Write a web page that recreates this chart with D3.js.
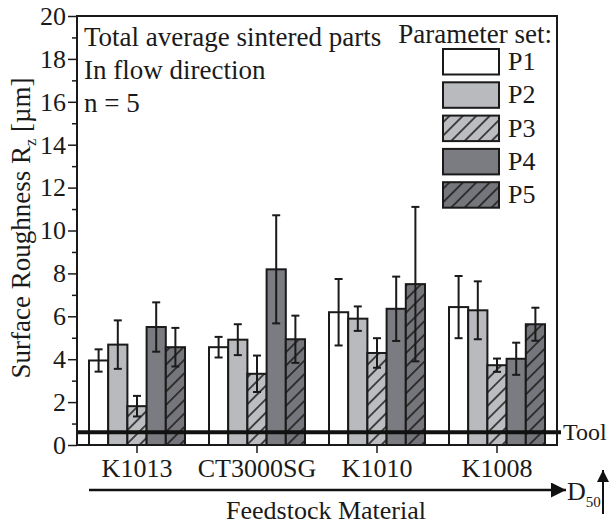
<!DOCTYPE html>
<html>
<head>
<meta charset="utf-8">
<script src="https://cdn.jsdelivr.net/npm/d3@7"></script>
<style>
  body { margin: 0; background: #fff; }
  text { font-family: "Liberation Serif", "DejaVu Serif", serif; fill: #1a1a1a; }
</style>
</head>
<body>
<script>
// feedstock materials (x categories) and parameter sets (series)
var materials = ["K1013", "CT3000SG", "K1010", "K1008"];
var paramSets = ["P1", "P2", "P3", "P4", "P5"];

// mean Rz per material, one array per parameter set
var p1Mean = [3.94, 4.56, 6.19, 6.43];
var p2Mean = [4.68, 4.91, 5.89, 6.28];
var p3Mean = [1.81, 3.32, 4.29, 3.72];
var p4Mean = [5.50, 8.19, 6.35, 4.02];
var p5Mean = [4.56, 4.93, 7.50, 5.63];

// standard deviation (error bar half length)
var p1Sd = [0.52, 0.48, 1.55, 1.45];
var p2Sd = [1.13, 0.72, 0.57, 1.35];
var p3Sd = [0.48, 0.85, 0.69, 0.31];
var p4Sd = [1.15, 2.52, 1.50, 0.75];
var p5Sd = [0.90, 1.10, 3.60, 0.77];

var toolValue = 0.6;
var yTicks = [0, 2, 4, 6, 8, 10, 12, 14, 16, 18, 20];

var means = [p1Mean, p2Mean, p3Mean, p4Mean, p5Mean];
var sds = [p1Sd, p2Sd, p3Sd, p4Sd, p5Sd];

// look of each parameter set
var fills = ["#ffffff", "#b9babd", "#bcbdc0", "#7b7c81", "#75767b"];
var hatched = [false, false, true, false, true];

var W = 610, H = 526;
// plot area (note: "top" is reserved by window, so prefix everything)
var plotLeft = 77, plotRight = 557, plotTop = 16, plotBottom = 445;

var svg = d3.select("body").append("svg")
  .attr("width", W)
  .attr("height", H);

// hatch patterns for P3 and P5
var defs = svg.append("defs");
var hs = 9.5; // hatch spacing
paramSets.forEach(function(p, i) {
  if (!hatched[i]) return;
  var pat = defs.append("pattern")
    .attr("id", "hatch" + i)
    .attr("patternUnits", "userSpaceOnUse")
    .attr("width", hs)
    .attr("height", hs)
    .attr("patternTransform", "rotate(45)");
  pat.append("rect").attr("width", hs).attr("height", hs).attr("fill", fills[i]);
  pat.append("line")
    .attr("x1", hs / 2).attr("y1", 0).attr("x2", hs / 2).attr("y2", hs)
    .attr("stroke", "#1a1a1a").attr("stroke-width", 1.5);
});
function fillOf(i) { return hatched[i] ? "url(#hatch" + i + ")" : fills[i]; }

//scales
var x0 = d3.scaleBand()
  .domain(materials)
  .range([plotLeft, plotRight])
  .paddingInner(0.2)
  .paddingOuter(0.1);

var x1 = d3.scaleBand()
  .domain(paramSets)
  .range([0, x0.bandwidth()]);

var y = d3.scaleLinear()
  .domain([0, 20])
  .range([plotBottom, plotTop]);

// bars
var rows = [];
materials.forEach(function(m, mi) {
  paramSets.forEach(function(p, pi) {
    rows.push({ m: m, p: p, pi: pi, v: means[pi][mi], sd: sds[pi][mi] });
  });
});

svg.append("g").selectAll("rect")
  .data(rows)
  .enter().append("rect")
  .attr("x", function(d) { return x0(d.m) + x1(d.p); })
  .attr("y", function(d) { return y(d.v); })
  .attr("width", x1.bandwidth())
  .attr("height", function(d) { return y(0) - y(d.v); })
  .attr("fill", function(d) { return fillOf(d.pi); })
  .attr("stroke", "#1a1a1a")
  .attr("stroke-width", 2);

// error bars
var eb = svg.append("g").attr("stroke", "#1a1a1a").attr("stroke-width", 2);
rows.forEach(function(d) {
  var cx = x0(d.m) + x1(d.p) + x1.bandwidth() / 2;
  eb.append("line")
    .attr("x1", cx).attr("x2", cx)
    .attr("y1", y(d.v + d.sd)).attr("y2", y(d.v - d.sd));
  [d.v + d.sd, d.v - d.sd].forEach(function(v) {
    eb.append("line")
      .attr("x1", cx - 4).attr("x2", cx + 4)
      .attr("y1", y(v)).attr("y2", y(v));
  });
});

// tool line
svg.append("line")
  .attr("x1", plotLeft).attr("x2", plotRight + 4)
  .attr("y1", y(toolValue)).attr("y2", y(toolValue))
  .attr("stroke", "#111").attr("stroke-width", 4);
svg.append("text")
  .attr("x", plotRight + 6)
  .attr("y", y(toolValue) + 8)
  .style("font-size", "24px")
  .text("Tool");

// frame
svg.append("rect")
  .attr("x", plotLeft).attr("y", plotTop)
  .attr("width", plotRight - plotLeft).attr("height", plotBottom - plotTop)
  .attr("fill", "none")
  .attr("stroke", "#1a1a1a")
  .attr("stroke-width", 2);

// y axis, major + minor ticks
var yAxis = svg.append("g")
  .attr("transform", "translate(" + plotLeft + ",0)")
  .call(d3.axisLeft(y).tickValues(yTicks).tickSize(9).tickPadding(2));
yAxis.select(".domain").remove();
yAxis.selectAll("line").attr("stroke", "#1a1a1a").attr("stroke-width", 1.5);
yAxis.selectAll("text")
  .style("font-size", "26px")
  .attr("fill", "#1a1a1a");

svg.append("g")
  .attr("transform", "translate(" + plotLeft + ",0)")
  .call(d3.axisLeft(y).tickValues(d3.range(1, 20, 2)).tickSize(5).tickFormat(""))
  .call(function(g) { g.select(".domain").remove(); })
  .selectAll("line").attr("stroke", "#1a1a1a").attr("stroke-width", 1.5);

// x axis ticks and labels
var xAxis = svg.append("g")
  .attr("transform", "translate(0," + plotBottom + ")")
  .call(d3.axisBottom(x0).tickSize(8).tickSizeOuter(0).tickPadding(6));
xAxis.select(".domain").remove();
xAxis.selectAll("line").attr("stroke", "#1a1a1a").attr("stroke-width", 1.5);
xAxis.selectAll("text")
  .style("font-size", "26px")
  .attr("fill", "#1a1a1a");

// y axis title with subscript
var yt = svg.append("text")
  .attr("transform", "translate(30," + 228 + ") rotate(-90)")
  .attr("text-anchor", "middle")
  .style("font-size", "27px");
yt.append("tspan").text("Surface Roughness R");
yt.append("tspan").attr("dy", 6).style("font-size", "16px").text("z");
yt.append("tspan").attr("dy", -6).text(" [\u00b5m]");

// x axis arrow and title
defs.append("marker")
  .attr("id", "arrowHead")
  .attr("viewBox", "0 0 10 10")
  .attr("refX", 10).attr("refY", 5)
  .attr("markerWidth", 6).attr("markerHeight", 6)
  .attr("markerUnits", "strokeWidth")
  .attr("orient", "auto")
  .append("path").attr("d", "M0,0 L10,5 L0,10 Z").attr("fill", "#111");

svg.append("line")
  .attr("x1", 89).attr("x2", 566)
  .attr("y1", 490).attr("y2", 490)
  .attr("stroke", "#111").attr("stroke-width", 2.5)
  .attr("marker-end", "url(#arrowHead)");

var d50 = svg.append("text")
  .attr("x", 567).attr("y", 500)
  .style("font-size", "26px");
d50.append("tspan").text("D");
d50.append("tspan").attr("dy", 7).style("font-size", "15px").text("50");

svg.append("line")
  .attr("x1", 603).attr("x2", 603)
  .attr("y1", 514).attr("y2", 470)
  .attr("stroke", "#111").attr("stroke-width", 2)
  .attr("marker-end", "url(#arrowHead)");

svg.append("text")
  .attr("x", 326).attr("y", 519)
  .attr("text-anchor", "middle")
  .style("font-size", "26px")
  .text("Feedstock Material");

// annotation texts
var notes = ["Total average sintered parts", "In flow direction", "n = 5"];
svg.append("g").selectAll("text")
  .data(notes)
  .enter().append("text")
  .attr("x", 84)
  .attr("y", function(d, i) { return 46 + i * 33; })
  .style("font-size", "27px")
  .text(function(d) { return d; });

// legend
svg.append("text")
  .attr("x", 552).attr("y", 43)
  .attr("text-anchor", "end")
  .style("font-size", "27px")
  .text("Parameter set:");

var leg = svg.append("g").selectAll("g")
  .data(paramSets)
  .enter().append("g")
  .attr("transform", function(d, i) { return "translate(443," + (49 + i * 33.3) + ")"; });
leg.append("rect")
  .attr("width", 56).attr("height", 25.5)
  .attr("fill", function(d, i) { return fillOf(i); })
  .attr("stroke", "#1a1a1a")
  .attr("stroke-width", 2);
leg.append("text")
  .attr("x", 65).attr("y", 21)
  .style("font-size", "26px")
  .text(function(d) { return d; });
</script>
</body>
</html>
